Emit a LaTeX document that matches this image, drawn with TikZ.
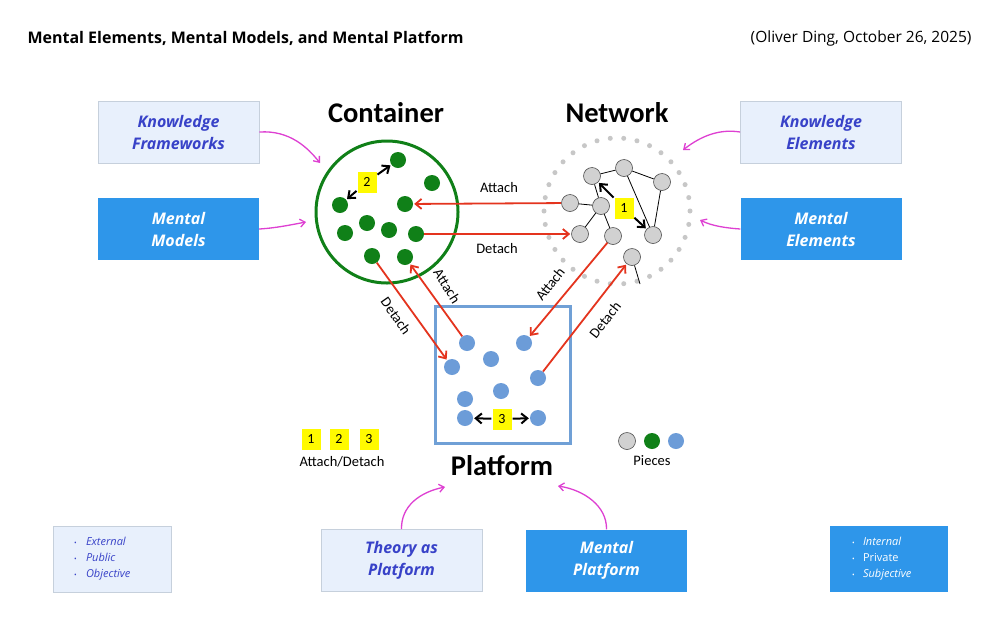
\documentclass[tikz,border=0pt]{standalone}
\usepackage{fontspec}
\setmainfont{Open Sans}
\newfontfamily\calib{Carlito}
\usetikzlibrary{arrows.meta}
\definecolor{dotgreen}{RGB}{16,128,24}
\definecolor{dotblue}{RGB}{108,156,216}
\definecolor{platblue}{RGB}{112,160,214}
\definecolor{linkred}{RGB}{228,52,30}
\definecolor{hiyellow}{RGB}{255,250,0}
\definecolor{lightfill}{RGB}{232,240,252}
\definecolor{lightedge}{RGB}{198,208,220}
\definecolor{darkfill}{RGB}{46,150,234}
\definecolor{textblue}{RGB}{56,66,200}
\definecolor{pinkline}{RGB}{222,64,210}
\begin{document}
\begin{tikzpicture}[x=1pt, y=-1pt,
  gdot/.style={circle, fill=dotgreen, inner sep=0pt, minimum size=16pt},
  bdot/.style={circle, fill=dotblue, inner sep=0pt, minimum size=16pt},
  ndot/.style={circle, draw=black!70, fill=black!18, line width=0.6pt, inner sep=0pt, minimum size=17pt},
  numbox/.style={fill=hiyellow, inner sep=0pt, minimum width=19pt, minimum height=21pt, font=\calib\fontsize{14}{14}\selectfont},
  redarrow/.style={draw=linkred, line width=1.8pt, -{Straight Barb[length=6pt, width=10pt]}, shorten >=1pt},
  blkarrow/.style={draw=black, line width=2pt, -{Straight Barb[length=6pt, width=10pt]}, shorten >=1pt, shorten <=1pt},
  pinkarrow/.style={draw=pinkline, line width=1.3pt, -{Straight Barb[length=5pt, width=8pt]}},
  lightbox/.style={draw=lightedge, fill=lightfill, line width=0.8pt, minimum width=161pt, minimum height=62pt, align=center, text=textblue, font=\fontsize{16}{22}\selectfont\bfseries\itshape},
  darkbox/.style={fill=darkfill, minimum width=161pt, minimum height=62pt, align=center, text=white, font=\fontsize{16}{22}\selectfont\bfseries\itshape},
  linklabel/.style={font=\calib\fontsize{14.5}{14.5}\selectfont},
  bigtitle/.style={font=\calib\bfseries\fontsize{28.5}{28.5}\selectfont}]
\useasboundingbox (0,0) rectangle (1000,630);
\fill[white] (0,0) rectangle (1000,630);
% heading
\node[anchor=west, font=\fontsize{16}{16}\selectfont\bfseries] (head) at (24,38) {Mental Elements, Mental Models, and Mental Platform};
\node[anchor=east, font=\fontsize{15.5}{15.5}\selectfont] (date) at (975,38) {(Oliver Ding, October 26, 2025)};
\node[bigtitle] (tcont) at (386,113) {Container};
\node[bigtitle] (tnet) at (617,113) {Network};
\node[bigtitle] (tplat) at (502,466) {Platform};
% container
\node[circle, draw=dotgreen, line width=3pt, minimum size=142pt] (cont) at (387,212) {};
\node[gdot] (g1) at (398,160){};
\node[gdot] (g2) at (432,183){};
\node[gdot] (g3) at (340,205){};
\node[gdot] (g4) at (405,204){};
\node[gdot] (g5) at (345,233){};
\node[gdot] (g6) at (367,223){};
\node[gdot] (g7) at (389,230){};
\node[gdot] (g8) at (416,234){};
\node[gdot] (g9) at (372,256){};
\node[gdot] (g10) at (405,257){};
\node[numbox] (l2) at (367,182){2};
\draw[blkarrow] (l2) -- (g3);
\draw[blkarrow] (l2) -- (g1);
% network
\draw[black!22, line width=5pt, line cap=round, dash pattern=on 0pt off 13.49pt] (617,211) circle (73);
\node[ndot] (n1) at (592,176){};
\node[ndot] (n2) at (624,168){};
\node[ndot] (n3) at (662,182){};
\node[ndot] (n4) at (570,203){};
\node[ndot] (n5) at (601,206){};
\node[ndot] (n6) at (580,234){};
\node[ndot] (n7) at (613,236){};
\node[ndot] (n8) at (653,235){};
\node[ndot] (n9) at (632,257){};
\coordinate (nend) at (640,284);
\draw[line width=0.8pt] (n1) -- (n2);
\draw[line width=0.8pt] (n2) -- (n3);
\draw[line width=0.8pt] (n3) -- (n8);
\draw[line width=0.8pt] (n2) -- (n8);
\draw[line width=0.8pt] (n1) -- (n5);
\draw[line width=0.8pt] (n4) -- (n5);
\draw[line width=0.8pt] (n5) -- (n6);
\draw[line width=0.8pt] (n5) -- (n7);
\draw[line width=0.8pt] (n9) -- (nend);
\node[numbox] (l1) at (624,208){1};
\draw[blkarrow] (l1) -- (n1);
\draw[blkarrow] (l1) -- (n8);
% platform
\draw[platblue, line width=3pt] (435,306) rectangle (570,443);
\node[bdot] (b1) at (467,343){};
\node[bdot] (b2) at (491,359){};
\node[bdot] (b3) at (524,343){};
\node[bdot] (b4) at (452,367){};
\node[bdot] (b5) at (538,378){};
\node[bdot] (b6) at (501,391){};
\node[bdot] (b7) at (465,399){};
\node[bdot] (b8) at (465,418){};
\node[bdot] (b9) at (538,418){};
\node[numbox] (l3) at (502,419){3};
\draw[blkarrow] (l3) -- (b8);
\draw[blkarrow] (l3) -- (b9);
% attach / detach
\draw[redarrow] (n4) -- (g4);
\draw[redarrow] (g8) -- (n6);
\draw[redarrow] (g9) -- (b4);
\draw[redarrow] (b1) -- (g10);
\draw[redarrow] (n7) -- (b3);
\draw[redarrow] (b5) -- (n9);
\node[linklabel] (a1) at (499,188) {Attach};
\node[linklabel] (d1) at (497,249) {Detach};
\node[linklabel, rotate=-55] (d2) at (396,316) {Detach};
\node[linklabel, rotate=-58] (a2) at (447,286) {Attach};
\node[linklabel, rotate=52] (a3) at (550,284) {Attach};
\node[linklabel, rotate=52] (d3) at (605,320) {Detach};
% legend
\node[numbox] (k1) at (311,439){1};
\node[numbox] (k2) at (339,439){2};
\node[numbox] (k3) at (369,439){3};
\node[linklabel] (klab) at (342,462) {Attach/Detach};
\node[ndot] (p1) at (627,441){};
\node[gdot] (p2) at (652,441){};
\node[bdot] (p3) at (676,441){};
\node[linklabel] (plab) at (652,461) {Pieces};
% side boxes
\node[lightbox] (kf) at (178.5,132) {Knowledge\\Frameworks};
\node[darkbox] (mm) at (178.5,229) {Mental\\Models};
\node[lightbox] (ke) at (821,132) {Knowledge\\Elements};
\node[darkbox] (me) at (821,229) {Mental\\Elements};
\node[lightbox] (tp) at (401.5,560.5) {Theory as\\Platform};
\node[darkbox] (mp) at (606.5,560.5) {Mental\\Platform};
\node[lightbox, minimum width=118pt, minimum height=66pt, text width=76pt, inner xsep=21pt, align=left, font=\fontsize{11}{16}\selectfont\itshape] (ext) at (112,559)
  {\makebox[12pt][l]{\fontsize{7}{7}\selectfont\upshape •}External\\\makebox[12pt][l]{\fontsize{7}{7}\selectfont\upshape •}Public\\\makebox[12pt][l]{\fontsize{7}{7}\selectfont\upshape •}Objective};
\node[darkbox, minimum width=118pt, minimum height=66pt, text width=74pt, inner xsep=22pt, align=left, font=\fontsize{11}{16}\selectfont] (int) at (889,559)
  {\makebox[11pt][l]{\fontsize{7}{7}\selectfont •}\textit{Internal}\\\makebox[11pt][l]{\fontsize{7}{7}\selectfont •}Private\\\makebox[11pt][l]{\fontsize{7}{7}\selectfont •}\textit{Subjective}};
% pointers
\coordinate (c1) at (320,163);
\coordinate (c2) at (306,222);
\coordinate (c3) at (683,150);
\coordinate (c4) at (700,220);
\coordinate (c5) at (445,487);
\coordinate (c6) at (558,486);
\draw[pinkarrow] (kf.east) .. controls (290,130) and (308,148) .. (c1);
\draw[pinkarrow] (mm.east) .. controls (276,228) and (290,225) .. (c2);
\draw[pinkarrow] (ke.west) .. controls (715,128) and (696,140) .. (c3);
\draw[pinkarrow] (me.west) .. controls (726,228) and (712,226) .. (c4);
\draw[pinkarrow] (tp.north) .. controls (401,506) and (420,492) .. (c5);
\draw[pinkarrow] (mp.north) .. controls (607,506) and (584,490) .. (c6);
\end{tikzpicture}
\end{document}
